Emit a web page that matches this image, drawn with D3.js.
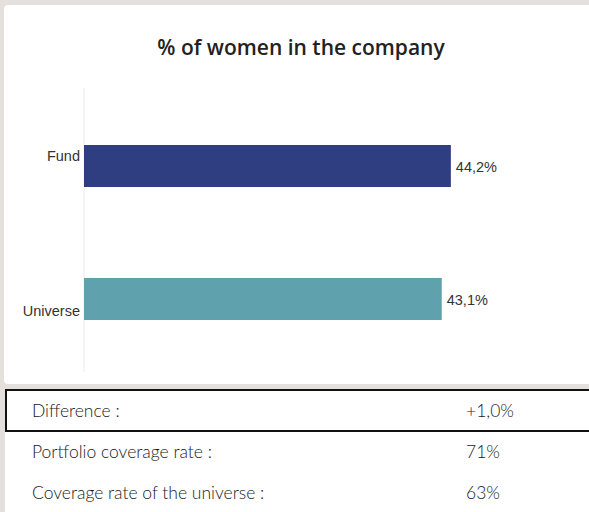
<!DOCTYPE html>
<html>
<head>
<meta charset="utf-8">
<script src="https://cdn.jsdelivr.net/npm/d3@7"></script>
<style>
  html, body { margin: 0; padding: 0; background: #e4e0dc; }
  svg { display: block; }
</style>
</head>
<body>
<svg id="chart"></svg>
<script>
/* data */
var categories = ["Fund", "Universe"];
var values = [44.2, 43.1];
var valueLabels = ["44,2%", "43,1%"];
var barColors = ["#2f3e80", "#5fa1ac"];
var tableLabels = ["Difference :", "Portfolio coverage rate :", "Coverage rate of the universe :"];
var tableValues = ["+1,0%", "71%", "63%"];
var title = "% of women in the company";

var width = 589, height = 512;
var svg = d3.select("#chart").attr("width", width).attr("height", height);

/* white card */
svg.append("rect")
  .attr("x", 4).attr("y", 5)
  .attr("width", width + 10).attr("height", 379)
  .attr("rx", 4)
  .attr("fill", "#fff");

svg.append("text")
  .attr("x", 301).attr("y", 55)
  .attr("text-anchor", "middle")
  .style("font-family", "'Open Sans', sans-serif")
  .style("font-weight", 600)
  .style("font-size", "21px")
  .attr("fill", "#222")
  .text(title);

/* scales */
var x0 = 84;
var xScale = d3.scaleLinear().domain([0, 60]).range([x0, x0 + 498]);
var yScale = d3.scalePoint().domain(categories).range([166, 299]);
var barH = 42;

var g = svg.append("g").attr("id", "bars");

// axis line
g.append("line")
  .attr("x1", x0).attr("x2", x0)
  .attr("y1", 88).attr("y2", 372)
  .attr("stroke", "#ebebeb").attr("stroke-width", 1);

g.selectAll("rect.bar")
  .data(categories)
  .enter().append("rect")
  .attr("class", "bar")
  .attr("x", xScale(0))
  .attr("y", function(d) { return yScale(d) - barH / 2; })
  .attr("width", function(d, i) { return xScale(values[i]) - xScale(0); })
  .attr("height", barH)
  .attr("fill", function(d, i) { return barColors[i]; });

// category labels (first sits at bar top, last at bar bottom)
g.selectAll("text.cat")
  .data(categories)
  .enter().append("text")
  .attr("class", "cat")
  .attr("x", x0 - 4)
  .attr("y", function(d, i) { return i === 0 ? yScale(d) - barH / 2 + 16 : yScale(d) + barH / 2 - 4; })
  .attr("text-anchor", "end")
  .style("font-family", "'Liberation Sans', Arial, sans-serif")
  .style("font-size", "14.5px")
  .attr("fill", "#333")
  .text(function(d) { return d; });

g.selectAll("text.val")
  .data(categories)
  .enter().append("text")
  .attr("class", "val")
  .attr("x", function(d, i) { return xScale(values[i]) + 5; })
  .attr("y", function(d) { return yScale(d) + 6; })
  .style("font-family", "'Liberation Sans', Arial, sans-serif")
  .style("font-size", "14.5px")
  .attr("fill", "#333")
  .text(function(d, i) { return valueLabels[i]; });

/* table */
var rowH = 41, tableTop = 390;
svg.append("rect")
  .attr("x", 5).attr("y", tableTop + rowH)
  .attr("width", width).attr("height", height - tableTop - rowH)
  .attr("fill", "#fff");
svg.append("rect")
  .attr("x", 6).attr("y", tableTop)
  .attr("width", width + 10).attr("height", rowH)
  .attr("fill", "#fff")
  .attr("stroke", "#111").attr("stroke-width", 2);

var rows = svg.selectAll("g.row")
  .data(tableLabels)
  .enter().append("g")
  .attr("class", "row")
  .attr("transform", function(d, i) { return "translate(0," + (tableTop + i * rowH + rowH / 2) + ")"; });

rows.append("text")
  .attr("x", 32).attr("y", 6)
  .style("font-family", "Lato, sans-serif")
  .style("font-weight", 300)
  .style("font-size", "17.5px")
  .attr("fill", "#1a1a1a")
  .text(function(d) { return d; });

rows.append("text")
  .attr("x", 466).attr("y", 6)
  .style("font-family", "Lato, sans-serif")
  .style("font-weight", 300)
  .style("font-size", "17.5px")
  .attr("fill", "#1a1a1a")
  .text(function(d, i) { return tableValues[i]; });
</script>
</body>
</html>
